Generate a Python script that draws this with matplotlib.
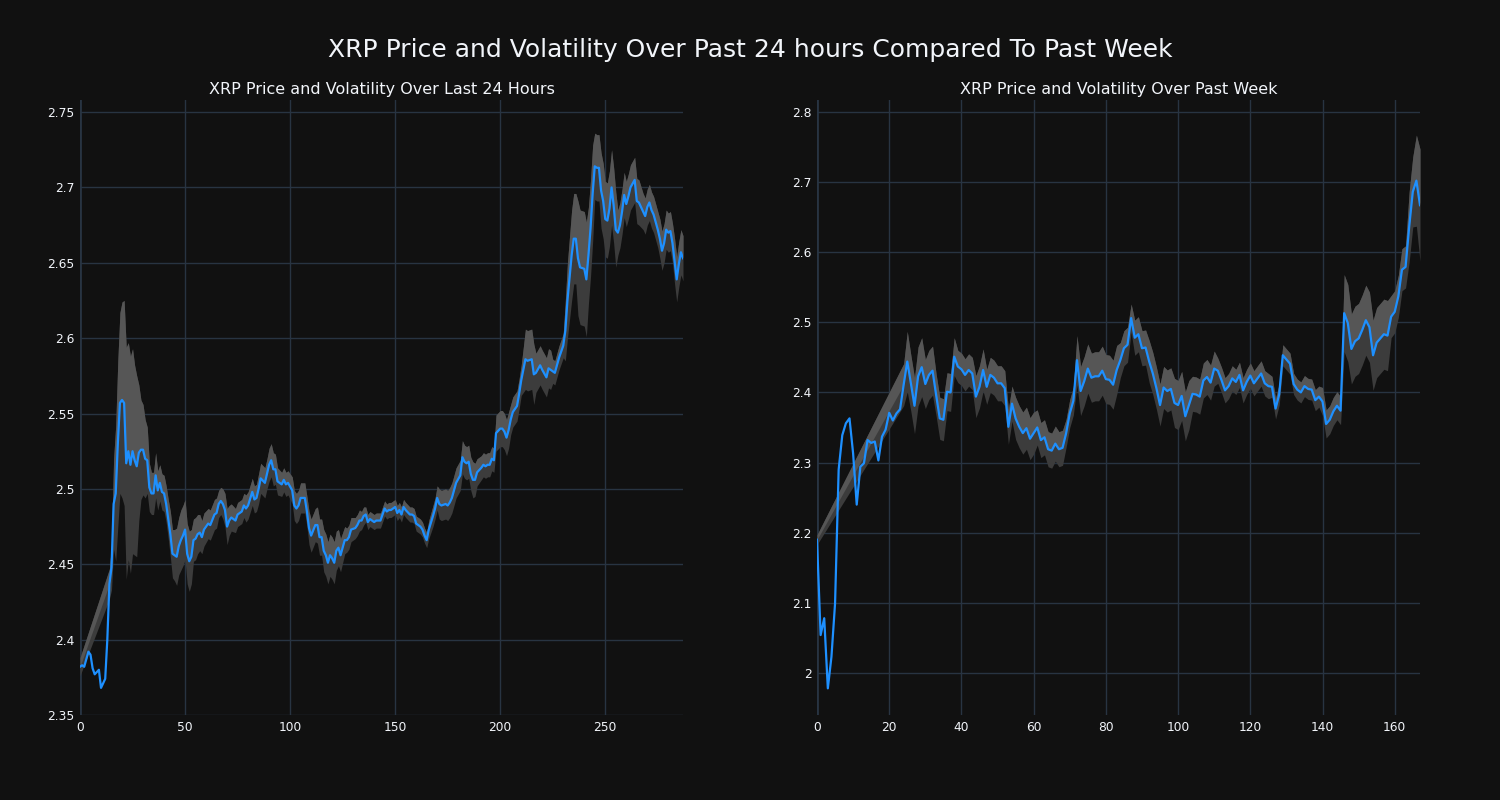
import matplotlib
matplotlib.use("Agg")
import matplotlib.pyplot as plt
import numpy as np

nan = np.nan

# last 24 hours, 5 minute steps (sample index, price, rolling volatility)
day_x = [0, 1, 2, 4, 5, 6, 7, 9, 10, 12,
         13, 14, 15, 16, 17, 18, 19, 20, 21, 22,
         23, 24, 25, 26, 27, 28, 29, 30, 31, 32,
         33, 34, 35, 36, 37, 38, 39, 40, 41, 42,
         43, 44, 45, 46, 47, 48, 49, 50, 51, 52,
         53, 54, 55, 56, 57, 58, 59, 61, 62, 64,
         65, 66, 67, 68, 69, 70, 71, 72, 74, 75,
         77, 78, 79, 80, 82, 83, 84, 85, 86, 88,
         89, 90, 91, 92, 93, 94, 96, 97, 98, 99,
         101, 102, 103, 104, 105, 107, 108, 109, 110, 112,
         113, 114, 115, 116, 117, 118, 119, 120, 121, 122,
         123, 124, 126, 127, 128, 129, 131, 132, 133, 134,
         135, 136, 137, 138, 140, 141, 143, 145, 146, 147,
         148, 150, 151, 152, 153, 154, 155, 157, 158, 159,
         160, 162, 163, 164, 165, 166, 168, 169, 170, 171,
         172, 174, 175, 176, 177, 178, 179, 181, 182, 183,
         184, 185, 186, 187, 188, 189, 191, 192, 193, 194,
         195, 196, 197, 198, 200, 201, 202, 203, 204, 205,
         206, 208, 209, 210, 212, 213, 215, 216, 217, 219,
         220, 222, 223, 224, 225, 226, 227, 228, 230, 231,
         232, 234, 235, 236, 237, 238, 240, 241, 242, 243,
         244, 245, 246, 247, 248, 249, 250, 251, 252, 253,
         254, 255, 256, 257, 258, 259, 260, 261, 262, 264,
         265, 266, 268, 269, 270, 271, 272, 273, 274, 275,
         276, 277, 278, 279, 280, 281, 282, 283, 284, 285,
         286, 287]

day_price = [2.382, 2.383, 2.382, 2.392, 2.390, 2.381, 2.377, 2.380, 2.368, 2.374,
             2.400, 2.437, 2.448, 2.490, 2.497, 2.530, 2.557, 2.559, 2.557, 2.517,
             2.525, 2.516, 2.525, 2.519, 2.515, 2.524, 2.526, 2.526, 2.520, 2.519,
             2.501, 2.497, 2.497, 2.509, 2.499, 2.504, 2.498, 2.497, 2.490, 2.480,
             2.470, 2.457, 2.456, 2.455, 2.462, 2.466, 2.469, 2.473, 2.457, 2.452,
             2.455, 2.466, 2.467, 2.470, 2.471, 2.468, 2.473, 2.477, 2.476, 2.483,
             2.484, 2.490, 2.492, 2.490, 2.486, 2.475, 2.479, 2.481, 2.479, 2.483,
             2.485, 2.489, 2.487, 2.489, 2.498, 2.493, 2.494, 2.500, 2.507, 2.504,
             2.510, 2.516, 2.519, 2.513, 2.513, 2.505, 2.503, 2.506, 2.503, 2.504,
             2.499, 2.489, 2.487, 2.489, 2.494, 2.494, 2.485, 2.474, 2.469, 2.476,
             2.476, 2.468, 2.468, 2.459, 2.456, 2.451, 2.456, 2.454, 2.451, 2.459,
             2.461, 2.456, 2.466, 2.466, 2.468, 2.473, 2.474, 2.476, 2.479, 2.479,
             2.482, 2.483, 2.478, 2.480, 2.478, 2.479, 2.479, 2.487, 2.485, 2.486,
             2.486, 2.488, 2.484, 2.486, 2.483, 2.488, 2.486, 2.483, 2.483, 2.482,
             2.477, 2.475, 2.473, 2.469, 2.466, 2.473, 2.482, 2.487, 2.494, 2.490,
             2.489, 2.490, 2.489, 2.491, 2.494, 2.499, 2.504, 2.509, 2.521, 2.518,
             2.517, 2.518, 2.510, 2.506, 2.506, 2.511, 2.514, 2.516, 2.515, 2.516,
             2.516, 2.520, 2.519, 2.537, 2.540, 2.540, 2.538, 2.534, 2.539, 2.546,
             2.551, 2.555, 2.563, 2.572, 2.586, 2.585, 2.586, 2.576, 2.577, 2.582,
             2.579, 2.574, 2.580, 2.579, 2.578, 2.577, 2.582, 2.587, 2.595, 2.605,
             2.625, 2.655, 2.666, 2.666, 2.653, 2.647, 2.646, 2.639, 2.655, 2.673,
             2.696, 2.714, 2.713, 2.713, 2.698, 2.691, 2.679, 2.678, 2.686, 2.700,
             2.688, 2.672, 2.670, 2.675, 2.684, 2.695, 2.689, 2.694, 2.700, 2.705,
             2.691, 2.690, 2.684, 2.681, 2.687, 2.690, 2.685, 2.682, 2.677, 2.672,
             2.666, 2.658, 2.663, 2.672, 2.670, 2.671, 2.663, 2.651, 2.639, 2.649,
             2.657, 2.653]

# nan = rolling window not filled yet
day_vol = [0.006, nan, nan, nan, nan, nan, nan, nan, nan, nan,
           nan, 0.010, 0.015, 0.030, 0.045, 0.055, 0.060, 0.065, 0.068, 0.077,
           0.072, 0.072, 0.068, 0.063, 0.060, 0.045, 0.033, 0.030, 0.026, 0.022,
           0.016, 0.014, 0.014, 0.015, 0.013, 0.012, 0.012, 0.012, 0.012, 0.013,
           0.015, 0.016, 0.017, 0.019, 0.019, 0.020, 0.020, 0.020, 0.020, 0.020,
           0.018, 0.014, 0.014, 0.013, 0.012, 0.011, 0.011, 0.010, 0.010, 0.010,
           0.010, 0.009, 0.009, 0.010, 0.011, 0.012, 0.010, 0.009, 0.008, 0.008,
           0.008, 0.008, 0.009, 0.009, 0.009, 0.009, 0.009, 0.010, 0.010, 0.010,
           0.010, 0.011, 0.011, 0.011, 0.010, 0.009, 0.008, 0.008, 0.008, 0.008,
           0.009, 0.010, 0.010, 0.010, 0.010, 0.010, 0.010, 0.011, 0.011, 0.011,
           0.012, 0.012, 0.012, 0.014, 0.014, 0.014, 0.014, 0.014, 0.014, 0.013,
           0.012, 0.011, 0.009, 0.008, 0.008, 0.008, 0.007, 0.007, 0.007, 0.006,
           0.006, 0.005, 0.005, 0.005, 0.005, 0.005, 0.005, 0.005, 0.005, 0.005,
           0.005, 0.005, 0.005, 0.005, 0.005, 0.005, 0.005, 0.005, 0.005, 0.005,
           0.005, 0.005, 0.005, 0.005, 0.005, 0.006, 0.007, 0.007, 0.008, 0.010,
           0.010, 0.010, 0.010, 0.010, 0.010, 0.010, 0.010, 0.010, 0.011, 0.011,
           0.011, 0.011, 0.011, 0.012, 0.011, 0.009, 0.008, 0.008, 0.008, 0.008,
           0.008, 0.008, 0.008, 0.012, 0.012, 0.012, 0.012, 0.012, 0.012, 0.010,
           0.010, 0.010, 0.010, 0.010, 0.020, 0.020, 0.020, 0.020, 0.013, 0.013,
           0.013, 0.013, 0.013, 0.013, 0.008, 0.008, 0.008, 0.008, 0.008, 0.020,
           0.025, 0.030, 0.030, 0.030, 0.038, 0.038, 0.038, 0.038, 0.032, 0.032,
           0.032, 0.022, 0.022, 0.022, 0.025, 0.025, 0.025, 0.025, 0.025, 0.025,
           0.025, 0.025, 0.015, 0.015, 0.015, 0.015, 0.015, 0.015, 0.015, 0.015,
           0.015, 0.015, 0.012, 0.012, 0.012, 0.012, 0.012, 0.012, 0.012, 0.012,
           0.013, 0.013, 0.013, 0.013, 0.013, 0.013, 0.013, 0.015, 0.015, 0.015,
           0.015, 0.015]

# past week, hourly
week_price = [2.190, 2.054, 2.078, 1.978, 2.023, 2.099, 2.290, 2.339, 2.356, 2.363,
              2.313, 2.240, 2.294, 2.299, 2.332, 2.328, 2.330, 2.303, 2.337, 2.347,
              2.371, 2.360, 2.370, 2.376, 2.411, 2.444, 2.413, 2.381, 2.423, 2.436,
              2.412, 2.425, 2.431, 2.396, 2.363, 2.361, 2.401, 2.400, 2.451, 2.437,
              2.433, 2.425, 2.432, 2.427, 2.394, 2.408, 2.432, 2.408, 2.425, 2.421,
              2.413, 2.413, 2.406, 2.351, 2.384, 2.363, 2.351, 2.342, 2.349, 2.334,
              2.342, 2.350, 2.332, 2.336, 2.319, 2.317, 2.327, 2.319, 2.321, 2.342,
              2.370, 2.388, 2.446, 2.402, 2.416, 2.434, 2.421, 2.423, 2.423, 2.431,
              2.419, 2.418, 2.411, 2.432, 2.446, 2.463, 2.468, 2.506, 2.478, 2.483,
              2.463, 2.464, 2.444, 2.427, 2.406, 2.382, 2.407, 2.402, 2.405, 2.385,
              2.382, 2.395, 2.366, 2.382, 2.398, 2.397, 2.394, 2.417, 2.422, 2.414,
              2.434, 2.431, 2.418, 2.403, 2.409, 2.420, 2.415, 2.425, 2.403, 2.415,
              2.424, 2.413, 2.420, 2.427, 2.413, 2.409, 2.408, 2.377, 2.397, 2.453,
              2.447, 2.441, 2.412, 2.404, 2.400, 2.409, 2.405, 2.404, 2.389, 2.394,
              2.387, 2.355, 2.361, 2.373, 2.381, 2.374, 2.513, 2.499, 2.462, 2.473,
              2.477, 2.489, 2.503, 2.493, 2.453, 2.471, 2.477, 2.483, 2.481, 2.508,
              2.515, 2.537, 2.575, 2.579, 2.636, 2.686, 2.702, 2.667]

week_vol = [0.007, nan, nan, nan, nan, nan, nan, nan, nan, nan,
            nan, nan, nan, nan, nan, nan, nan, nan, nan, nan,
            nan, nan, nan, nan, 0.030, 0.043, 0.040, 0.040, 0.042, 0.042,
            0.035, 0.035, 0.035, 0.030, 0.030, 0.030, 0.027, 0.027, 0.027, 0.023,
            0.023, 0.023, 0.023, 0.023, 0.030, 0.030, 0.030, 0.025, 0.025, 0.025,
            0.025, 0.025, 0.025, 0.025, 0.025, 0.030, 0.030, 0.030, 0.030, 0.030,
            0.030, 0.025, 0.025, 0.025, 0.025, 0.025, 0.025, 0.025, 0.025, 0.020,
            0.020, 0.020, 0.035, 0.035, 0.035, 0.035, 0.035, 0.035, 0.035, 0.035,
            0.035, 0.035, 0.035, 0.035, 0.025, 0.025, 0.025, 0.020, 0.025, 0.025,
            0.025, 0.025, 0.030, 0.030, 0.030, 0.030, 0.030, 0.030, 0.030, 0.035,
            0.035, 0.035, 0.035, 0.035, 0.025, 0.025, 0.025, 0.025, 0.025, 0.025,
            0.025, 0.018, 0.018, 0.018, 0.018, 0.018, 0.018, 0.018, 0.018, 0.018,
            0.018, 0.018, 0.018, 0.018, 0.018, 0.018, 0.015, 0.015, 0.015, 0.015,
            0.015, 0.015, 0.015, 0.015, 0.015, 0.015, 0.015, 0.015, 0.015, 0.015,
            0.020, 0.020, 0.020, 0.020, 0.020, 0.020, 0.055, 0.055, 0.050, 0.050,
            0.050, 0.050, 0.050, 0.050, 0.050, 0.050, 0.050, 0.050, 0.050, 0.030,
            0.030, 0.030, 0.030, 0.030, 0.050, 0.050, 0.065, 0.080]

day_yticks = [2.35, 2.4, 2.45, 2.5, 2.55, 2.6, 2.65, 2.7, 2.75]
day_ylabels = ["2.35", "2.4", "2.45", "2.5", "2.55", "2.6", "2.65", "2.7", "2.75"]
week_yticks = [2.0, 2.1, 2.2, 2.3, 2.4, 2.5, 2.6, 2.7, 2.8]
week_ylabels = ["2", "2.1", "2.2", "2.3", "2.4", "2.5", "2.6", "2.7", "2.8"]

bg = "#111111"
grid_c = "#283442"
txt = "#f2f5fa"
blue = "#1e90ff"

fig = plt.figure(figsize=(15, 8), dpi=100, facecolor=bg)
ax1 = fig.add_axes([80 / 1500, 85 / 800, 603 / 1500, 615 / 800])
ax2 = fig.add_axes([817 / 1500, 85 / 800, 603 / 1500, 615 / 800])


def draw(ax, x, price, vol, title, xticks, yticks, ylabels, xlim, ylim):
    x = np.asarray(x, dtype=float)
    price = np.asarray(price)
    vol = np.asarray(vol)
    ok = ~np.isnan(vol)
    up = price[ok] + vol[ok]
    lo = price[ok] - vol[ok]
    ax.fill_between(x[ok], lo, up, color="#3c3c3c", lw=0, zorder=2)
    ax.fill_between(x[ok], price[ok], up, color="#565656", lw=0, zorder=2)
    ax.plot(x, price, color=blue, lw=1.6, zorder=3)

    ax.set_facecolor(bg)
    ax.set_xlim(*xlim)
    ax.set_ylim(*ylim)
    ax.set_xticks(xticks)
    ax.set_yticks(yticks)
    ax.set_yticklabels(ylabels)
    ax.grid(True, color=grid_c, lw=1, zorder=0)
    ax.axvline(0, color=grid_c, lw=2, zorder=1)
    for s in ax.spines.values():
        s.set_visible(False)
    ax.tick_params(colors=txt, labelsize=8.8, length=0, pad=4)
    ax.set_title(title, color=txt, fontsize=11.5, pad=4)


draw(ax1, day_x, day_price, day_vol, "XRP Price and Volatility Over Last 24 Hours",
     [0, 50, 100, 150, 200, 250], day_yticks, day_ylabels, (0, 287), (2.35, 2.758))
draw(ax2, np.arange(len(week_price)), week_price, week_vol, "XRP Price and Volatility Over Past Week",
     [0, 20, 40, 60, 80, 100, 120, 140, 160], week_yticks, week_ylabels, (0, 167), (1.94, 2.817))

fig.suptitle("XRP Price and Volatility Over Past 24 hours Compared To Past Week",
             color=txt, fontsize=18, y=0.9375, va="center")

fig.savefig("out.png", facecolor=bg)
